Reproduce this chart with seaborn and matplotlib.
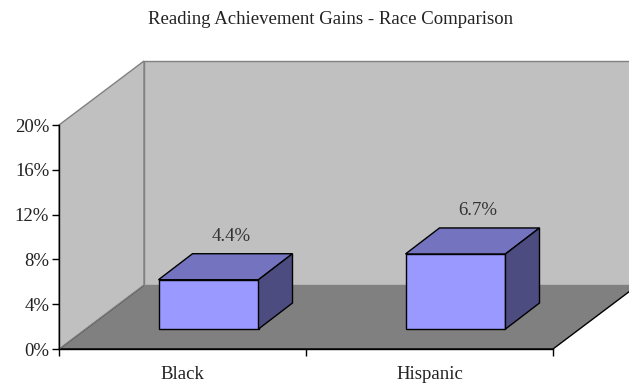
import numpy as np
import pandas as pd
import matplotlib
matplotlib.use("Agg")
import matplotlib.pyplot as plt
from matplotlib.patches import Polygon
from matplotlib.ticker import FuncFormatter, FixedLocator
import seaborn as sns

# Chart data
races = ["Black", "Hispanic"]
gains = [4.4, 6.7]          # percent
value_labels = ["4.4%", "6.7%"]
y_ticks = [0, 4, 8, 12, 16, 20]
title = "Reading Achievement Gains - Race Comparison"

sns.set_theme(style="white")
plt.rcParams["font.family"] = ["Liberation Serif", "DejaVu Serif"]

W, H, DPI = 629, 386, 100
fig = plt.figure(figsize=(W / DPI, H / DPI), dpi=DPI)
fig.patch.set_facecolor("white")

# Front plane of the 3-D box (pixels): x 59..553, y 349 (0%) .. 125 (20%)
left_px, right_px, bot_px, top_px = 59, 553, 349, 125
ax = fig.add_axes([left_px / W, (H - bot_px) / H,
                   (right_px - left_px) / W, (bot_px - top_px) / H])
ax.set_facecolor("none")

x_lo, x_hi = -0.5, len(races) - 0.5
y_lo, y_hi = 0, 20
ux = (right_px - left_px) / (x_hi - x_lo)   # px per category unit
uy = (bot_px - top_px) / (y_hi - y_lo)      # px per percent

# Depth of the box and of the bars, in data units
depth = np.array([85 / ux, 64 / uy])
bar_front = np.array([26 / ux, 20 / uy])
bar_back = np.array([60 / ux, 46 / uy])
bar_width = 100 / ux

wall_col, floor_col, wall_edge = "#C0C0C0", "#808080", "#808080"
front_col, top_col, side_col = "#9999FF", "#7373BF", "#4C4C80"

# Walls and floor
dx, dy = depth
floor = Polygon([(x_lo, y_lo), (x_hi, y_lo), (x_hi + dx, y_lo + dy), (x_lo + dx, y_lo + dy)],
                closed=True, facecolor=floor_col, edgecolor="black", lw=1.0,
                clip_on=False, zorder=0.2)
back = Polygon([(x_lo + dx, y_lo + dy), (x_hi + dx, y_lo + dy), (x_hi + dx, y_hi + dy), (x_lo + dx, y_hi + dy)],
               closed=True, facecolor=wall_col, edgecolor=wall_edge, lw=1.0,
               clip_on=False, zorder=0.3)
side = Polygon([(x_lo, y_lo), (x_lo, y_hi), (x_lo + dx, y_hi + dy), (x_lo + dx, y_lo + dy)],
               closed=True, facecolor=wall_col, edgecolor=wall_edge, lw=1.0,
               clip_on=False, zorder=0.4)
for p in (floor, back, side):
    ax.add_patch(p)

# Front faces of the bars
positions = np.arange(len(races)) + bar_front[0]
df = pd.DataFrame({"pos": positions, "gain": gains})
sns.barplot(data=df, x="pos", y="gain", native_scale=True, width=bar_width,
            bottom=bar_front[1], color=front_col, saturation=1,
            edgecolor="black", linewidth=1.0, ax=ax, zorder=2)

# Top and side faces of the bars
ddx, ddy = bar_back - bar_front
for pos, g, lab in zip(positions, gains, value_labels):
    x0, x1 = pos - bar_width / 2, pos + bar_width / 2
    b, t = bar_front[1], bar_front[1] + g
    ax.add_patch(Polygon([(x0, t), (x1, t), (x1 + ddx, t + ddy), (x0 + ddx, t + ddy)],
                         closed=True, facecolor=top_col, edgecolor="black", lw=1.0,
                         clip_on=False, zorder=2.1))
    ax.add_patch(Polygon([(x1, b), (x1, t), (x1 + ddx, t + ddy), (x1 + ddx, b + ddy)],
                         closed=True, facecolor=side_col, edgecolor="black", lw=1.0,
                         clip_on=False, zorder=2.1))
    ax.annotate(lab, xy=(pos + ddx / 2, t + ddy), xytext=(4, 12.5), textcoords="offset points",
                ha="center", va="center", fontsize=13.5, color="#333333", zorder=3)

ax.set_xlim(x_lo, x_hi)
ax.set_ylim(y_lo, y_hi)

# Axes lines, ticks and labels
for s in ("top", "right"):
    ax.spines[s].set_visible(False)
for s in ("left", "bottom"):
    ax.spines[s].set_color("black")
    ax.spines[s].set_linewidth(1.0)
    ax.spines[s].set_zorder(1)

ax.set_yticks(y_ticks)
ax.yaxis.set_major_formatter(FuncFormatter(lambda v, _: f"{v:.0f}%"))
ax.set_xticks(np.arange(len(races)))
ax.set_xticklabels(races)
ax.xaxis.set_minor_locator(FixedLocator(np.arange(len(races) + 1) - 0.5))
ax.tick_params(axis="y", which="major", direction="out", length=5, width=1.0,
               color="black", left=True, labelsize=13.5, pad=2, labelcolor="#222222")
ax.tick_params(axis="x", which="major", length=0, labelsize=13.5, pad=12, labelcolor="#222222")
ax.tick_params(axis="x", which="minor", direction="out", length=5, width=1.0,
               color="black", bottom=True)
ax.set_xlabel("")
ax.set_ylabel("")

fig.text(331 / W, 1 - 19 / H, title, ha="center", va="center", fontsize=13.5, color="#222222")

fig.savefig("out.png", dpi=DPI, facecolor="white")
